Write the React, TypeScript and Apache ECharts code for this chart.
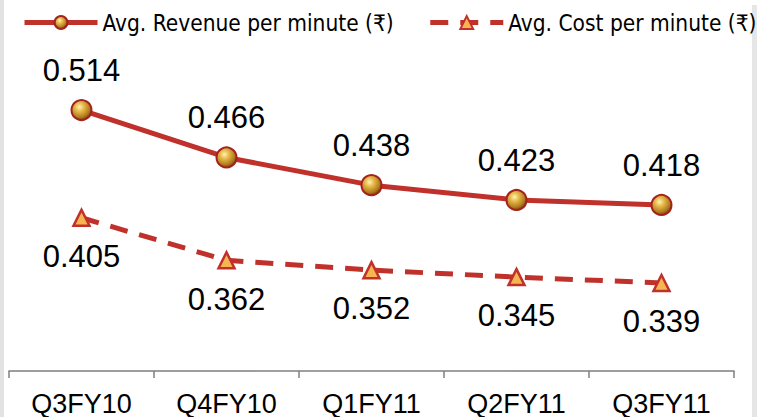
import React, { useEffect, useRef } from "react";
import * as echarts from "echarts";

const categories = ["Q3FY10", "Q4FY10", "Q1FY11", "Q2FY11", "Q3FY11"];
const revenue = [0.514, 0.466, 0.438, 0.423, 0.418];
const cost = [0.405, 0.362, 0.352, 0.345, 0.339];
const seriesNames = ["Avg. Revenue per minute (₹)", "Avg. Cost per minute (₹)"];

export default function App() {
  const ref = useRef<HTMLDivElement>(null);
  useEffect(() => {
    if (!ref.current) return;
    const chart = echarts.init(ref.current, null, { renderer: "svg" });
    const red = "#c0312b";
    const sphere = new echarts.graphic.RadialGradient(0.4, 0.35, 0.65, [
      { offset: 0, color: "#fff2b0" },
      { offset: 0.35, color: "#e6b84a" },
      { offset: 0.8, color: "#b07a1c" },
      { offset: 1, color: "#7a4a10" },
    ]);
    chart.setOption({
      animation: false,
      backgroundColor: "#ffffff",
      graphic: [
        { type: "rect", left: 0, top: 0, shape: { width: 4, height: 417 }, style: { fill: "#e2e2e2" } },
        { type: "rect", left: 752, top: 5, shape: { width: 5, height: 412 }, style: { fill: "#e6e6e6" } },
      ],
      legend: {
        left: 22,
        top: 11,
        width: 735,
        padding: 0,
        itemWidth: 73,
        itemHeight: 16,
        itemGap: 34,
        lineStyle: { width: 5 },
        textStyle: { fontFamily: "DejaVu Sans Condensed", fontSize: 22.5, color: "#000" },
        data: seriesNames,
      },
      grid: { left: 9, right: 23, top: 25, bottom: 46, containLabel: false },
      xAxis: {
        type: "category",
        data: categories,
        boundaryGap: true,
        axisLine: { lineStyle: { color: "#7f7f7f", width: 1.5 } },
        axisTick: { show: true, length: 7, lineStyle: { color: "#7f7f7f", width: 1.5 } },
        axisLabel: { fontFamily: "Liberation Sans", fontSize: 27, color: "#000", margin: 19 },
      },
      yAxis: { type: "value", min: 0.25, max: 0.6, show: false, splitLine: { show: false } },
      series: [
        {
          name: seriesNames[0],
          type: "line",
          data: revenue,
          symbol: "circle",
          symbolSize: 20,
          lineStyle: { color: red, width: 5 },
          itemStyle: { color: sphere, borderColor: "#a4221e", borderWidth: 2 },
          label: {
            show: true,
            position: "top",
            distance: 13,
            fontFamily: "Liberation Sans",
            fontSize: 31,
            color: "#000",
            formatter: (p: any) => p.value.toFixed(3),
          },
        },
        {
          name: seriesNames[1],
          type: "line",
          data: cost,
          symbol: "triangle",
          symbolSize: 16,
          lineStyle: { color: red, width: 5, type: [18, 12] },
          itemStyle: { color: "#f6b550", borderColor: red, borderWidth: 2.5 },
          label: {
            show: true,
            position: "bottom",
            distance: 14,
            fontFamily: "Liberation Sans",
            fontSize: 31,
            color: "#000",
            formatter: (p: any) => p.value.toFixed(3),
          },
        },
      ],
    });
    return () => chart.dispose();
  }, []);
  return <div ref={ref} style={{ position: "fixed", left: 0, top: 0, width: 757, height: 417 }} />;
}
